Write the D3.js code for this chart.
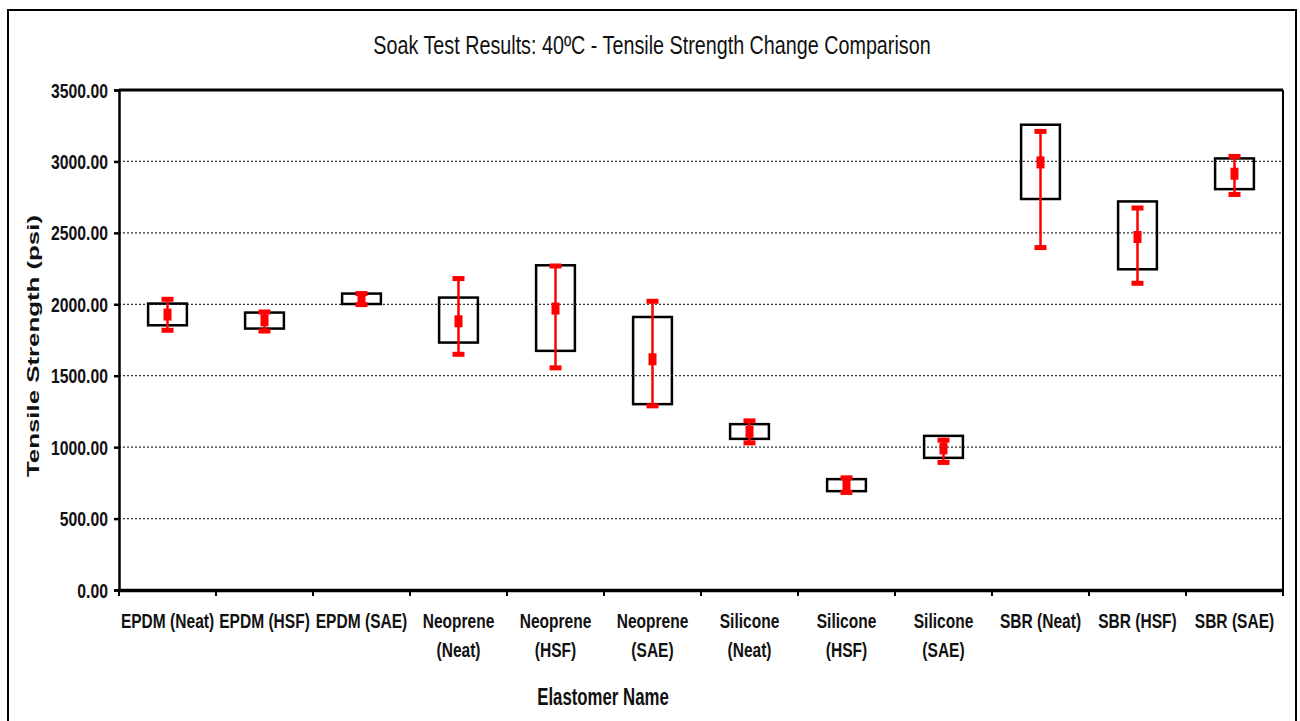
<!DOCTYPE html>
<html><head><meta charset="utf-8">
<script src="https://cdn.jsdelivr.net/npm/d3@7/dist/d3.min.js"></script>
<style>
html,body{margin:0;padding:0;background:#fff;}
svg{display:block;}
text{font-family:"Liberation Sans Narrow","Arial Narrow","Liberation Sans",Arial,sans-serif;}
</style></head>
<body>
<svg id="chart" width="1300" height="721"></svg>
<script>
const categories = ["EPDM (Neat)","EPDM (HSF)","EPDM (SAE)","Neoprene (Neat)","Neoprene (HSF)","Neoprene (SAE)","Silicone (Neat)","Silicone (HSF)","Silicone (SAE)","SBR (Neat)","SBR (HSF)","SBR (SAE)"];
const boxTop    = [2005,1942,2075,2047,2273,1911,1161,776,1079,3257,2720,3021];
const boxBottom = [1853,1830,2002,1732,1674,1301,1058,692,925,2737,2245,2806];
const errMax    = [2035,1946,2075,2180,2268,2021,1184,785,1049,3210,2674,3035];
const errMin    = [1818,1813,1998,1650,1555,1289,1030,683,893,2397,2147,2769];
const means     = [1928,1888,2035,1881,1970,1615,1107,734,991,2993,2471,2914];
const yTicks    = [0,500,1000,1500,2000,2500,3000,3500];
const title = "Soak Test Results: 40ºC - Tensile Strength Change Comparison";
const xTitle = "Elastomer Name";
const yTitle = "Tensile Strength (psi)";

const svg = d3.select("#chart");
const L = 119, R = 1283, T = 90, B = 590;

// condensed text helper (no narrow font installed)
function ntext(parent, x, y, str, size, weight, anchor, sx) {
  return parent.append("text")
    .attr("transform", `translate(${x},${y}) scale(${sx},1)`)
    .attr("text-anchor", anchor).attr("font-size", size).attr("font-weight", weight)
    .attr("fill", "#111").text(str);
}

// outer border
svg.append("rect").attr("x",8).attr("y",10).attr("width",1288).attr("height",720)
  .attr("fill","none").attr("stroke","#000").attr("stroke-width",2);

const x = d3.scaleBand().domain(categories).range([L,R]).padding(0);
const y = d3.scaleLinear().domain([0,3500]).range([B,T]);

// gridlines
svg.append("g").selectAll("line").data(yTicks.filter(v=>v>0 && v<3500)).join("line")
  .attr("x1",L).attr("x2",R).attr("y1",d=>y(d)).attr("y2",d=>y(d))
  .attr("stroke","#333").attr("stroke-width",1.2).attr("stroke-dasharray","2,2");

// plot frame
svg.append("line").attr("x1",L).attr("x2",R).attr("y1",T).attr("y2",T).attr("stroke","#000").attr("stroke-width",3);
svg.append("line").attr("x1",R).attr("x2",R).attr("y1",T).attr("y2",B).attr("stroke","#000").attr("stroke-width",2);

// y axis (ticks via d3 axis, labels condensed)
const yAxis = svg.append("g").attr("transform",`translate(${L},0)`)
  .call(d3.axisLeft(y).tickValues(yTicks).tickFormat("").tickSize(5));
yAxis.select(".domain").attr("stroke","#000").attr("stroke-width",2.5);
yAxis.selectAll(".tick line").attr("stroke","#000").attr("stroke-width",2.5);
const yl = svg.append("g");
yTicks.forEach(v => ntext(yl, 108, y(v)+7.5, d3.format(".2f")(v), 21, "bold", "end", 0.75));

// x axis
const xAxis = svg.append("g").attr("transform",`translate(0,${B})`)
  .call(d3.axisBottom(x).tickSize(0).tickFormat(""));
xAxis.select(".domain").attr("stroke","#000").attr("stroke-width",3.5);
svg.append("g").selectAll("line").data(d3.range(categories.length+1)).join("line")
  .attr("x1",i=> i<categories.length ? x(categories[i]) : R)
  .attr("x2",i=> i<categories.length ? x(categories[i]) : R)
  .attr("y1",B).attr("y2",B+6).attr("stroke","#000").attr("stroke-width",2);

// x labels with wrapping
const lbl = svg.append("g");
const xs = 0.74;
categories.forEach(c=>{
  const cx = x(c)+x.bandwidth()/2;
  const t = ntext(lbl, cx, 628, c, 21, "bold", "middle", xs);
  if (t.node().getComputedTextLength()*xs > x.bandwidth()-2) {
    const parts = c.split(" (");
    t.text(parts[0]);
    ntext(lbl, cx, 657, "("+parts[1], 21, "bold", "middle", xs);
  }
});

// boxes
const bw = x.bandwidth()*0.4;
const g = svg.append("g");
g.selectAll("rect.box").data(categories).join("rect").attr("class","box")
  .attr("x",(d)=>x(d)+x.bandwidth()/2-bw/2)
  .attr("y",(d,i)=>y(boxTop[i]))
  .attr("width",bw)
  .attr("height",(d,i)=>y(boxBottom[i])-y(boxTop[i]))
  .attr("fill","none").attr("stroke","#000").attr("stroke-width",2.5);

// error bars
const red = "#ff0000";
const cxOf = d=>x(d)+x.bandwidth()/2;
g.selectAll("line.err").data(categories).join("line").attr("class","err")
  .attr("x1",cxOf).attr("x2",cxOf)
  .attr("y1",(d,i)=>y(errMax[i])).attr("y2",(d,i)=>y(errMin[i]))
  .attr("stroke",red).attr("stroke-width",2.5);
[errMax, errMin].forEach(arr=>{
  g.append("g").selectAll("rect").data(categories).join("rect")
    .attr("x",d=>cxOf(d)-6).attr("y",(d,i)=>y(arr[i])-2.5)
    .attr("width",12).attr("height",5).attr("fill",red);
});
g.append("g").selectAll("rect").data(categories).join("rect")
  .attr("x",d=>cxOf(d)-4).attr("y",(d,i)=>y(means[i])-6)
  .attr("width",8).attr("height",12).attr("fill",red);

// titles
ntext(svg, 652, 54, title, 25, "normal", "middle", 0.79);
ntext(svg, 603, 705, xTitle, 23, "bold", "middle", 0.73);
svg.append("text").attr("transform","translate(39,346) rotate(-90)").attr("text-anchor","middle")
  .attr("font-family","'Liberation Sans',Arial,sans-serif").attr("font-size",16).attr("font-weight","bold")
  .attr("textLength",262).attr("lengthAdjust","spacingAndGlyphs").attr("fill","#111").text(yTitle);
</script>
</body></html>
